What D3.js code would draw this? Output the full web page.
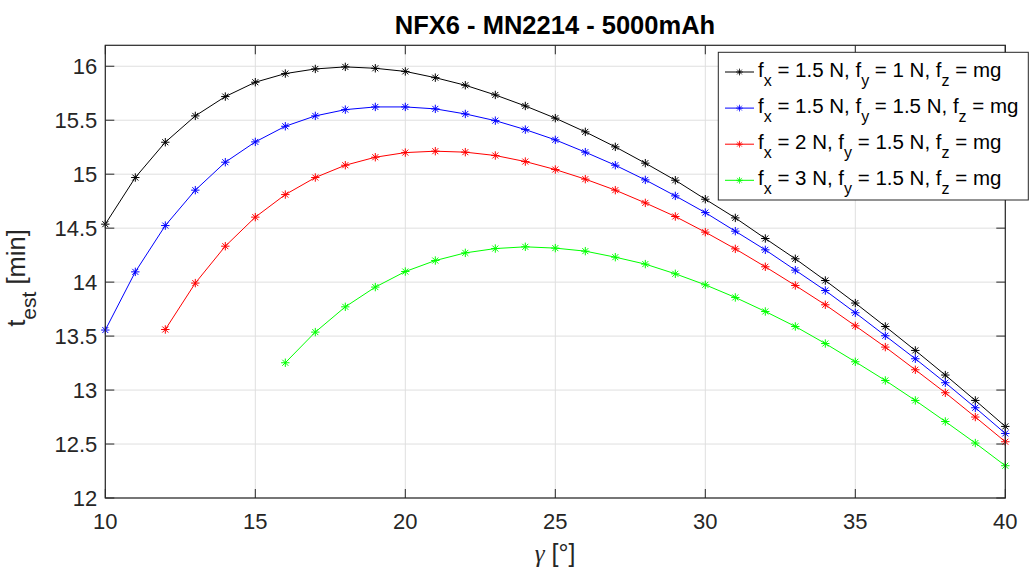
<!DOCTYPE html>
<html><head><meta charset="utf-8">
<script src="https://cdn.jsdelivr.net/npm/d3@7/dist/d3.min.js"></script>
<style>
body{margin:0;background:#fff;}
text{font-family:"Liberation Sans",Arial,sans-serif;fill:#262626;}
</style></head>
<body><svg id="c" width="1030" height="568"></svg>
<script>
const gammaDeg = d3.range(10, 41);
const xTicks = [10,15,20,25,30,35,40];
const yTicks = [12,12.5,13,13.5,14,14.5,15,15.5,16];
const yTickLabels = ["12","12.5","13","13.5","14","14.5","15","15.5","16"];
const black = [14.537,14.969,15.296,15.540,15.719,15.852,15.932,15.975,15.994,15.981,15.952,15.894,15.824,15.734,15.632,15.519,15.392,15.253,15.102,14.944,14.768,14.595,14.404,14.216,14.015,13.806,13.589,13.367,13.139,12.904,12.663];
const blue = [13.556,14.095,14.524,14.852,15.111,15.299,15.444,15.540,15.598,15.623,15.623,15.605,15.558,15.496,15.413,15.318,15.204,15.083,14.947,14.799,14.644,14.472,14.299,14.111,13.922,13.716,13.503,13.290,13.068,12.836,12.598];
const red = [null,null,13.561,13.991,14.333,14.602,14.811,14.969,15.083,15.157,15.200,15.213,15.204,15.173,15.117,15.043,14.954,14.852,14.734,14.608,14.463,14.308,14.142,13.969,13.790,13.595,13.398,13.188,12.975,12.750,12.521];
const green = [null,null,null,null,null,null,13.253,13.537,13.771,13.954,14.098,14.200,14.271,14.311,14.327,14.315,14.287,14.231,14.167,14.077,13.975,13.858,13.728,13.589,13.431,13.262,13.089,12.904,12.709,12.509,12.299];
const seriesNames = [
  ["1.5 N","1 N"],
  ["1.5 N","1.5 N"],
  ["2 N","1.5 N"],
  ["3 N","1.5 N"]
];
const seriesColors = ["#000000","#0000ff","#ff0000","#00ff00"];
const seriesValues = [black, blue, red, green];

const svg = d3.select("#c");
const L=105.3, R=1005.3, T=45.3, B=498;
const x = d3.scaleLinear().domain([10,40]).range([L,R]);
const y = d3.scaleLinear().domain([12,16.194]).range([B,T]);
const axisCol="#262626";

// grid
const g = svg.append("g");
g.selectAll(".gx").data(xTicks).join("line")
  .attr("x1",d=>x(d)).attr("x2",d=>x(d)).attr("y1",T).attr("y2",B)
  .attr("stroke","#dfdfdf").attr("stroke-width",1);
g.selectAll(".gy").data(yTicks).join("line")
  .attr("y1",d=>y(d)).attr("y2",d=>y(d)).attr("x1",L).attr("x2",R)
  .attr("stroke","#dfdfdf").attr("stroke-width",1);

// series
const line = d3.line().defined(d=>d[1]!=null).x(d=>x(d[0])).y(d=>y(d[1]));
const s=4.2, dd=3;
const star = `M${-s},0H${s}M0,${-s}V${s}M${-dd},${-dd}L${dd},${dd}M${-dd},${dd}L${dd},${-dd}`;
seriesValues.forEach((vals,i)=>{
  const pts = gammaDeg.map((gd,j)=>[gd,vals[j]]);
  svg.append("path").attr("d",line(pts)).attr("fill","none")
    .attr("stroke",seriesColors[i]).attr("stroke-width",1);
  svg.append("g").selectAll("path").data(pts.filter(p=>p[1]!=null)).join("path")
    .attr("d",star).attr("transform",p=>`translate(${x(p[0])},${y(p[1])})`)
    .attr("stroke",seriesColors[i]).attr("stroke-width",1).attr("fill","none");
});

// axes box
svg.append("rect").attr("x",L).attr("y",T).attr("width",R-L).attr("height",B-T)
  .attr("fill","none").attr("stroke",axisCol).attr("stroke-width",1.2);
const tl=9;
xTicks.forEach(t=>{
  svg.append("line").attr("x1",x(t)).attr("x2",x(t)).attr("y1",B).attr("y2",B-tl).attr("stroke",axisCol);
  svg.append("line").attr("x1",x(t)).attr("x2",x(t)).attr("y1",T).attr("y2",T+tl).attr("stroke",axisCol);
});
yTicks.forEach(t=>{
  svg.append("line").attr("y1",y(t)).attr("y2",y(t)).attr("x1",L).attr("x2",L+tl).attr("stroke",axisCol);
  svg.append("line").attr("y1",y(t)).attr("y2",y(t)).attr("x1",R).attr("x2",R-tl).attr("stroke",axisCol);
});
svg.append("g").selectAll("text").data(xTicks).join("text")
  .attr("x",d=>x(d)).attr("y",528.5).attr("text-anchor","middle")
  .attr("font-size",22).text(d=>d);
svg.append("g").selectAll("text").data(yTicks).join("text")
  .attr("x",L-8).attr("y",d=>y(d)+7.8).attr("text-anchor","end")
  .attr("font-size",22).text((d,i)=>yTickLabels[i]);

// title
svg.append("text").attr("x",555).attr("y",34.3).attr("text-anchor","middle")
  .attr("font-size",25.5).attr("font-weight","bold").style("fill","#000")
  .text("NFX6 - MN2214 - 5000mAh");

// x label
const xl = svg.append("text").attr("x",555).attr("y",562).attr("text-anchor","middle").attr("font-size",25);
xl.append("tspan").attr("font-style","italic").attr("font-family","Liberation Serif, serif").text("γ");
xl.append("tspan").text(" [°]");

// y label
const yl = svg.append("text").attr("transform","translate(25,278) rotate(-90)").attr("text-anchor","middle").attr("font-size",25.5);
yl.append("tspan").text("t");
yl.append("tspan").attr("font-size",21).attr("dy",11).text("est");
yl.append("tspan").attr("dy",-11).text(" [min]");

// legend
const lx=718.3, ly=52.3, lw=310, lh=147.7;
svg.append("rect").attr("x",lx).attr("y",ly).attr("width",lw).attr("height",lh)
  .attr("fill","#fff").attr("stroke",axisCol).attr("stroke-width",1);
seriesNames.forEach((nm,i)=>{
  const cy = 72 + i*36.1;
  svg.append("line").attr("x1",725).attr("x2",754).attr("y1",cy).attr("y2",cy)
    .attr("stroke",seriesColors[i]).attr("stroke-width",1);
  svg.append("path").attr("d",star).attr("transform",`translate(739.5,${cy}) scale(0.8)`)
    .attr("stroke",seriesColors[i]).attr("fill","none");
  const t = svg.append("text").attr("x",758).attr("y",cy+4.5).attr("font-size",20.5).style("fill","#000");
  const sub=(s)=>{t.append("tspan").attr("font-size",16).attr("dy",9.5).text(s);};
  const norm=(s)=>{t.append("tspan").attr("dy",-9.5).text(s);};
  t.append("tspan").text("f"); sub("x"); norm(` = ${nm[0]}, f`); sub("y"); norm(` = ${nm[1]}, f`); sub("z"); norm(" = mg");
});
</script></body></html>
